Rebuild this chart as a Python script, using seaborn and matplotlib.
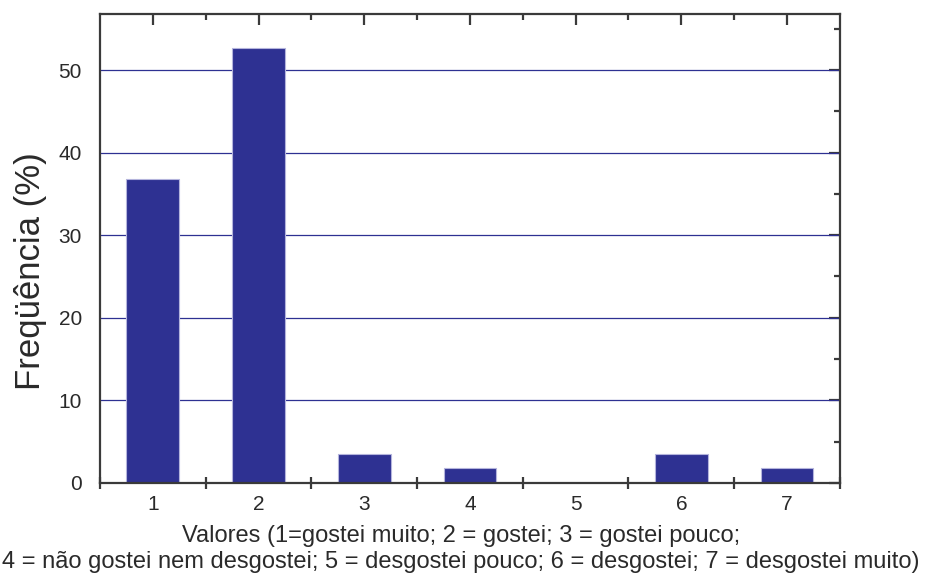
import pandas as pd
import matplotlib.pyplot as plt
import seaborn as sns
from matplotlib.ticker import FixedLocator, MultipleLocator

# Response categories and frequency (%) for each
valores = [1, 2, 3, 4, 5, 6, 7]
frequencia = [36.84, 52.63, 3.51, 1.75, 0.0, 3.51, 1.75]

xlabel_text = ("Valores (1=gostei muito; 2 = gostei; 3 = gostei pouco;\n"
               "4 = não gostei nem desgostei; 5 = desgostei pouco; 6 = desgostei; 7 = desgostei muito)")

sns.set_style("white")
plt.rcParams['font.family'] = ['Liberation Sans', 'DejaVu Sans']

bar_color = '#2E3192'
dark = '#3a3a3a'
text_color = '#2a2a2a'

df = pd.DataFrame({'Valor': valores, 'Freq': frequencia})

fig = plt.figure(figsize=(9.26, 5.81), dpi=100)
ax = fig.add_axes([0.108, 0.169, 0.799, 0.807])

sns.barplot(data=df, x='Valor', y='Freq', native_scale=True, width=0.5,
            color=bar_color, saturation=1, edgecolor='#b4b4dc', linewidth=0.8, ax=ax)

ax.set_xlim(0.5, 7.5)
ax.set_ylim(0, 56.8)

# horizontal gridlines
ax.set_axisbelow(True)
ax.yaxis.grid(True, color=bar_color, linewidth=0.9)
ax.xaxis.grid(False)

for s in ax.spines.values():
    s.set_visible(True)
    s.set_color(dark)
    s.set_linewidth(1.6)

# bottom: labels at integers, crossing ticks between bars
ax.set_xticks(valores)
ax.xaxis.set_minor_locator(FixedLocator([v + 0.5 for v in [0] + valores]))
ax.tick_params(axis='x', which='major', length=0, pad=9, labelsize=15, labelcolor=text_color)
ax.tick_params(axis='x', which='minor', direction='inout', length=8, width=1.6,
               color=dark, bottom=True, top=False)

# left: outward ticks
ax.set_yticks([0, 10, 20, 30, 40, 50])
ax.yaxis.set_minor_locator(MultipleLocator(5))
ax.tick_params(axis='y', which='major', direction='out', length=8, width=1.6,
               color=dark, labelsize=15, labelcolor=text_color, pad=5, right=False)
ax.tick_params(axis='y', which='minor', direction='out', length=4, width=1.6,
               color=dark, right=False)

# top ticks: long inward at integers, short at halves
top = ax.secondary_xaxis('top')
top.set_xticks(valores, labels=[])
top.xaxis.set_minor_locator(FixedLocator([v + 0.5 for v in valores[:-1]]))
top.tick_params(which='major', direction='in', length=8, width=1.6, color=dark)
top.tick_params(which='minor', direction='in', length=4, width=1.6, color=dark)
top.spines['top'].set_visible(False)

# right ticks: inward
right = ax.secondary_yaxis('right')
right.set_yticks([0, 10, 20, 30, 40, 50], labels=[])
right.yaxis.set_minor_locator(MultipleLocator(5))
right.tick_params(which='major', direction='in', length=8, width=1.6, color=dark)
right.tick_params(which='minor', direction='in', length=4, width=1.6, color=dark)
right.spines['right'].set_visible(False)

ax.set_ylabel('Freqüência (%)', fontsize=25, color=text_color, labelpad=8, y=0.452)
ax.set_xlabel(xlabel_text, fontsize=17, color=text_color, labelpad=8,
              linespacing=1.2, x=0.488)

fig.savefig('out.png', dpi=100)
